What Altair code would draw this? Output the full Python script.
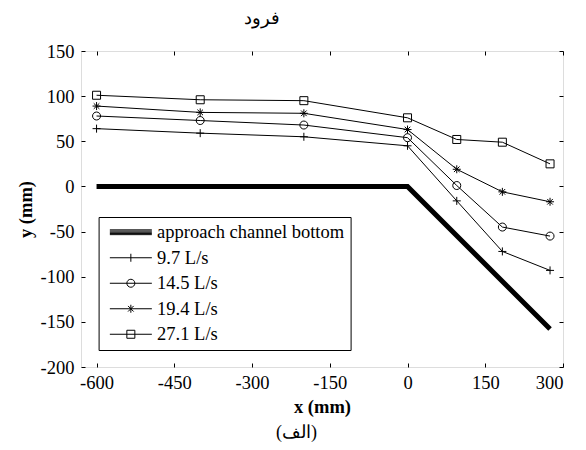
import altair as alt
import pandas as pd

# ---- data ----
x_pos = [-600, -400, -200, 0, 95, 183, 275]
q_9_7 = [64, 59, 55, 45, -16, -72, -93]
q_14_5 = [78, 73, 68, 54, 1, -45, -55]
q_19_4 = [89, 82, 81, 63, 19, -6, -17]
q_27_1 = [101, 96, 95, 76, 52, 49, 25]
series_names = ["9.7 L/s", "14.5 L/s", "19.4 L/s", "27.1 L/s"]
channel_name = "approach channel bottom"
channel_x = [-600, 0, 275]
channel_y = [0, 0, -158]

x_ticks = [-600, -450, -300, -150, 0, 150, 300]
y_ticks = [-200, -150, -100, -50, 0, 50, 100, 150]
x_domain = [-630, 300]
y_domain = [-200, 150]

rows = []
for name, vals in zip(series_names, [q_9_7, q_14_5, q_19_4, q_27_1]):
    for xv, yv in zip(x_pos, vals):
        rows.append({"x": xv, "y": yv, "series": name})
df = pd.DataFrame(rows)
chan = pd.DataFrame({"x": channel_x, "y": channel_y, "series": channel_name})
legend_df = pd.DataFrame({"x": [channel_x[0]] * 5, "y": [channel_y[0]] * 5,
                          "series": [channel_name] + series_names})

# marker shapes (MATLAB-like: +, o, *, square) as unit paths
plot_paths = [
    "M-1,0H1M0,-1V1",
    "M1,0A1,1,0,1,1,-1,0A1,1,0,1,1,1,0",
    "M-1,0H1M0,-1V1M-0.7,-0.7L0.7,0.7M-0.7,0.7L0.7,-0.7",
    "M-1,-1H1V1H-1Z",
]
# legend samples: line segment with marker in the middle
legend_paths = [
    "M-1,-0.6H9.5M-1,-0.3H9.5M-1,0H9.5M-1,0.3H9.5M-1,0.6H9.5",
    "M-1,0H9.5M4.25,-1V1",
    "M-1,0H9.5M5.25,0A1,1,0,1,1,3.25,0A1,1,0,1,1,5.25,0",
    "M-1,0H9.5M4.25,-1V1M3.55,-0.7L4.95,0.7M3.55,0.7L4.95,-0.7",
    "M-1,0H9.5M3.25,-1H5.25V1H3.25Z",
]

FONT = "Liberation Serif"
minus_fix = "replace(datum.label, '\u2212', '-')"

xs = alt.Scale(domain=x_domain, nice=False, zero=False)
ys = alt.Scale(domain=y_domain, nice=False, zero=False)

common = dict(labelFont=FONT, titleFont=FONT, labelColor="black", titleColor="black",
              tickColor="black", tickWidth=1, domain=False, grid=False)

# Layer A: channel bottom, carries the labelled axes
main_x = alt.Axis(values=x_ticks, ticks=False, tickSize=0,
                  labelPadding=6, labelFontSize=18.5, labelExpr=minus_fix,
                  title="x (mm)", titleFontSize=18.5, titleFontWeight="bold",
                  titleBaseline="middle", titleY=39, **common)
main_y = alt.Axis(values=y_ticks, ticks=False, tickSize=0,
                  labelPadding=7, labelFontSize=18.5, labelExpr=minus_fix,
                  title="y (mm)", titleFontSize=18.5, titleFontWeight="bold",
                  titleBaseline="middle", titleAlign="center", titleX=-56, titleY=158,
                  **common)
layer_a = alt.Chart(chan).mark_line(color="black", strokeWidth=5, strokeCap="butt",
                                    strokeJoin="miter").encode(
    x=alt.X("x:Q", scale=xs, axis=main_x),
    y=alt.Y("y:Q", scale=ys, axis=main_y),
)

# Layer B: measured lines, inward ticks bottom/left + caption
tick_b = alt.Axis(orient="bottom", values=x_ticks, offset=-4, tickSize=4, labels=False,
                  title="(الف)", titleFontSize=18,
                  titleFontWeight="normal", titleBaseline="middle", titleAlign="center",
                  titleX=215, titleY=69, **common)
tick_l = alt.Axis(orient="left", values=y_ticks, offset=-4, tickSize=4, labels=False,
                  title=None, **common)
layer_b = alt.Chart(df).mark_line(color="black", strokeWidth=1).encode(
    x=alt.X("x:Q", scale=xs, axis=tick_b),
    y=alt.Y("y:Q", scale=ys, axis=tick_l),
    detail="series:N",
)

# Layer C: markers, inward ticks top/right
tick_t = alt.Axis(orient="top", values=x_ticks, offset=-4, tickSize=4, labels=False,
                  title=None, **common)
tick_r = alt.Axis(orient="right", values=y_ticks, offset=-4, tickSize=4, labels=False,
                  title=None, **common)
layer_c = alt.Chart(df).mark_point(filled=False, color="black", size=64, strokeWidth=1,
                                   opacity=1).encode(
    x=alt.X("x:Q", scale=xs, axis=tick_t),
    y=alt.Y("y:Q", scale=ys, axis=tick_r),
    shape=alt.Shape("series:N", scale=alt.Scale(domain=series_names, range=plot_paths),
                    legend=None),
)

# Layer D: legend only
layer_d = alt.Chart(legend_df).mark_point(filled=False, color="black", opacity=0).encode(
    x=alt.X("x:Q", scale=xs, axis=None),
    y=alt.Y("y:Q", scale=ys, axis=None),
    shape=alt.Shape("series:N",
                    scale=alt.Scale(domain=[channel_name] + series_names, range=legend_paths),
                    legend=alt.Legend(title=None, orient="none", legendX=17.6, legendY=166,
                                      symbolSize=64, symbolStrokeWidth=1,
                                      symbolStrokeColor="black", symbolFillColor="transparent",
                                      labelFontSize=18.5, labelFont=FONT, labelColor="black",
                                      labelLimit=400, labelOffset=34, rowPadding=6.5,
                                      padding=6, strokeColor="black", fillColor="white")),
)

chart = alt.layer(layer_a, layer_b, layer_c, layer_d).resolve_axis(
    x="independent", y="independent"
).resolve_scale(shape="independent").properties(
    width=482, height=316,
    autosize=alt.AutoSizeParams(type="none"),
    padding={"left": 73, "top": 43, "right": 15, "bottom": 75},
    title=alt.TitleParams("فرود", fontSize=18, fontWeight="normal", font=FONT,
                          anchor="middle", dx=-60, offset=5, baseline="middle",
                          color="black"),
).configure_view(stroke="black", strokeWidth=1).configure_axis(
    labelFont=FONT, titleFont=FONT
).configure(background="white", font=FONT)

chart.save("out.html", embed_options={"renderer": "svg", "actions": False})
